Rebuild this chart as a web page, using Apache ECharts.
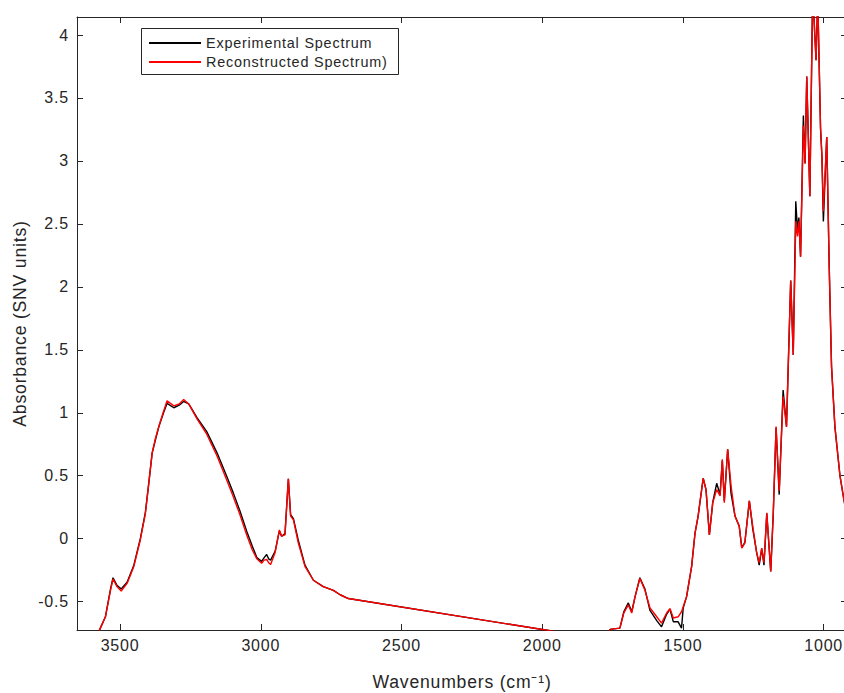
<!DOCTYPE html>
<html>
<head>
<meta charset="utf-8">
<script src="https://cdn.jsdelivr.net/npm/echarts@6/dist/echarts.min.js"></script>
<style>
html, body { margin: 0; padding: 0; background: #fff; }
#chart { width: 844px; height: 693px; }
#chart text { letter-spacing: 0.8px; }
</style>
</head>
<body>
<div id="chart"></div>
<script>
// Wavenumbers (cm^-1), descending
const wavenumbers = [3700,3610,3572,3552,3534,3525,3511,3496,3475,3451,3428,3410,3398,3386,3375,3362,3347,3333,3309,3290,3274,3256,3226,3192,3155,3120,3097,3074,3050,3030,3014,2997,2988,2979,2972,2965,2949,2934,2926,2914,2902,2894,2884,2867,2843,2813,2778,2742,2718,2689,1955,1900,1790,1759,1724,1710,1694,1682,1670,1653,1635,1617,1593,1576,1558,1546,1534,1517,1505,1499,1487,1469,1457,1446,1428,1418,1406,1394,1380,1368,1360,1353,1341,1329,1315,1300,1291,1280,1264,1252,1238,1229,1220,1212,1202,1188,1179,1169,1158,1144,1132,1117,1108,1099,1093,1088,1082,1072,1066,1060,1049,1039,1027,1021,1011,1006,1001,989,980,972,960,942,928,915];
const experimental = [-1.4,-0.93,-0.72,-0.62,-0.40,-0.31,-0.37,-0.40,-0.345,-0.21,0.00,0.21,0.44,0.68,0.78,0.89,0.99,1.075,1.04,1.06,1.09,1.07,0.96,0.85,0.68,0.49,0.36,0.22,0.06,-0.06,-0.15,-0.18,-0.15,-0.125,-0.16,-0.17,-0.10,0.06,0.02,0.04,0.475,0.19,0.16,-0.01,-0.21,-0.33,-0.38,-0.41,-0.445,-0.475,-0.737,-1.1,-1.1,-0.72,-0.71,-0.58,-0.51,-0.58,-0.46,-0.31,-0.40,-0.57,-0.65,-0.70,-0.60,-0.56,-0.66,-0.66,-0.71,-0.55,-0.46,-0.22,0.045,0.18,0.48,0.39,0.03,0.29,0.44,0.35,0.62,0.30,0.71,0.36,0.18,0.10,-0.07,-0.03,0.30,0.08,-0.11,-0.21,-0.08,-0.21,0.20,-0.26,0.20,0.88,0.35,1.18,0.89,2.05,1.46,2.68,2.45,2.55,2.24,3.36,2.98,3.67,2.72,4.35,3.80,4.30,3.26,3.03,2.52,3.19,2.14,1.37,0.89,0.50,0.31,0.15];
const reconstructed = [-1.4,-0.93,-0.72,-0.62,-0.41,-0.32,-0.38,-0.415,-0.355,-0.22,-0.01,0.20,0.44,0.68,0.79,0.895,1.00,1.095,1.055,1.07,1.105,1.07,0.95,0.83,0.655,0.46,0.33,0.19,0.03,-0.09,-0.16,-0.195,-0.17,-0.165,-0.19,-0.205,-0.11,0.07,0.02,0.03,0.475,0.18,0.15,-0.03,-0.22,-0.33,-0.38,-0.41,-0.445,-0.475,-0.737,-1.1,-1.1,-0.72,-0.71,-0.59,-0.525,-0.59,-0.46,-0.315,-0.41,-0.55,-0.62,-0.67,-0.59,-0.555,-0.63,-0.62,-0.58,-0.54,-0.46,-0.22,0.045,0.18,0.48,0.39,0.03,0.285,0.39,0.34,0.63,0.285,0.71,0.42,0.18,0.10,-0.075,-0.035,0.30,0.10,-0.11,-0.19,-0.075,-0.19,0.205,-0.26,0.205,0.89,0.38,1.13,0.89,2.05,1.46,2.52,2.40,2.52,2.24,3.28,2.98,3.67,2.72,4.35,3.80,4.30,3.26,3.03,2.60,3.19,2.14,1.37,0.89,0.50,0.31,0.15];
const xTicks = [1000,1500,2000,2500,3000,3500];
const yTicks = [-0.5,0,0.5,1,1.5,2,2.5,3,3.5,4];
const seriesNames = ['Experimental Spectrum', 'Reconstructed Spectrum)'];

const expData = wavenumbers.map((w, i) => [w, experimental[i]]);
const recData = wavenumbers.map((w, i) => [w, reconstructed[i]]);

const TXT = '#262626';
const FONT = '"Liberation Sans", Arial, Helvetica, sans-serif';
const xMin = 917, xMax = 3653, yMin = -0.725, yMax = 4.143;

const chart = echarts.init(document.getElementById('chart'), null, { renderer: 'svg' });
chart.setOption({
  animation: false,
  backgroundColor: '#fff',
  textStyle: { fontFamily: FONT },
  grid: { left: 77, top: 17, right: -3, bottom: 63, containLabel: false, outerBoundsMode: 'none' },
  legend: {
    data: seriesNames,
    orient: 'vertical',
    left: 149,
    top: 35,
    padding: 0,
    itemWidth: 52,
    itemHeight: 2,
    itemGap: 3,
    icon: 'rect',
    textStyle: { fontFamily: FONT, fontSize: 14.4, color: TXT, lineHeight: 16 },
    borderWidth: 0
  },
  graphic: [{
    type: 'rect',
    shape: { x: 141.5, y: 28.5, width: 257, height: 46 },
    style: { fill: 'none', stroke: TXT, lineWidth: 1 },
    z: 5
  }],
  xAxis: [{
    type: 'value',
    inverse: true,
    min: xMin, max: xMax,
    position: 'bottom',
    name: 'Wavenumbers (cm⁻¹)',
    nameLocation: 'middle',
    nameGap: 43,
    nameTextStyle: { fontFamily: FONT, fontSize: 17.6, color: TXT },
    axisLine: { show: true, onZero: false, lineStyle: { color: TXT, width: 1 } },
    axisTick: { show: true, inside: true, length: 6, customValues: xTicks, lineStyle: { color: TXT } },
    axisLabel: { show: true, customValues: xTicks, margin: 7, fontFamily: FONT, fontSize: 16, color: TXT, formatter: v => String(v) },
    splitLine: { show: false }
  }, {
    type: 'value',
    inverse: true,
    min: xMin, max: xMax,
    position: 'top',
    axisLine: { show: true, onZero: false, lineStyle: { color: TXT, width: 1 } },
    axisTick: { show: true, inside: true, length: 6, customValues: xTicks, lineStyle: { color: TXT } },
    axisLabel: { show: false },
    splitLine: { show: false }
  }],
  yAxis: [{
    type: 'value',
    min: yMin, max: yMax,
    position: 'left',
    name: 'Absorbance (SNV units)',
    nameLocation: 'middle',
    nameGap: 48,
    nameTextStyle: { fontFamily: FONT, fontSize: 17.6, color: TXT },
    axisLine: { show: true, onZero: false, lineStyle: { color: TXT, width: 1 } },
    axisTick: { show: true, inside: true, length: 6, customValues: yTicks, lineStyle: { color: TXT } },
    axisLabel: { show: true, customValues: yTicks, margin: 8, fontFamily: FONT, fontSize: 16, color: TXT, formatter: v => String(v) },
    splitLine: { show: false }
  }, {
    type: 'value',
    min: yMin, max: yMax,
    position: 'right',
    axisLine: { show: true, onZero: false, lineStyle: { color: TXT, width: 1 } },
    axisTick: { show: true, inside: true, length: 6, customValues: yTicks, lineStyle: { color: TXT } },
    axisLabel: { show: false },
    splitLine: { show: false }
  }],
  series: [{
    name: seriesNames[0],
    type: 'line',
    xAxisIndex: 0, yAxisIndex: 0,
    data: expData,
    showSymbol: false,
    symbol: 'none',
    clip: true,
    color: '#000000',
    lineStyle: { color: '#000000', width: 1.4 },
    z: 2
  }, {
    name: seriesNames[1],
    type: 'line',
    xAxisIndex: 0, yAxisIndex: 0,
    data: recData,
    showSymbol: false,
    symbol: 'none',
    clip: true,
    color: '#ff0000',
    lineStyle: { color: '#ff0000', width: 1.4 },
    z: 3
  }]
});
</script>
</body>
</html>
